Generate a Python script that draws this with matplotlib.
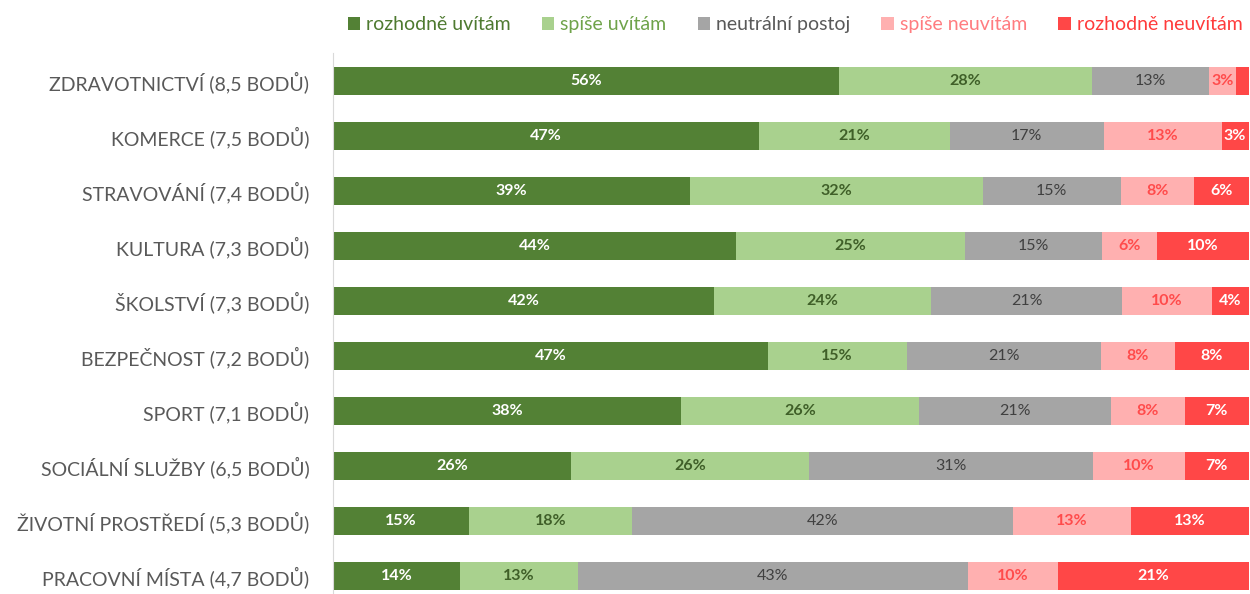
import matplotlib.pyplot as plt

plt.rcParams['font.family'] = ['Lato', 'DejaVu Sans']

categories = ['ZDRAVOTNICTVÍ (8,5 BODŮ)', 'KOMERCE (7,5 BODŮ)', 'STRAVOVÁNÍ (7,4 BODŮ)',
              'KULTURA (7,3 BODŮ)', 'ŠKOLSTVÍ (7,3 BODŮ)', 'BEZPEČNOST (7,2 BODŮ)',
              'SPORT (7,1 BODŮ)', 'SOCIÁLNÍ SLUŽBY (6,5 BODŮ)',
              'ŽIVOTNÍ PROSTŘEDÍ (5,3 BODŮ)', 'PRACOVNÍ MÍSTA (4,7 BODŮ)']

series = ['rozhodně uvítám', 'spíše uvítám', 'neutrální postoj', 'spíše neuvítám', 'rozhodně neuvítám']

rozhodne_uvitam = [56, 47, 39, 44, 42, 47, 38, 26, 15, 14]
spise_uvitam = [28, 21, 32, 25, 24, 15, 26, 26, 18, 13]
neutralni = [13, 17, 15, 15, 21, 21, 21, 31, 42, 43]
spise_neuvitam = [3, 13, 8, 6, 10, 8, 8, 10, 13, 10]
rozhodne_neuvitam = [1.4, 3, 6, 10, 4, 8, 7, 7, 13, 21]

colors = ['#538135', '#A9D18E', '#A5A5A5', '#FFB0B0', '#FF4747']
label_colors = ['white', '#3F5F28', '#404040', '#FF4B4B', 'white']
label_weights = ['bold', 'bold', 'normal', 'bold', 'bold']
legend_colors = ['#4E7A30', '#6FA34A', '#595959', '#FF7C80', '#FF3B3B']

data = [rozhodne_uvitam, spise_uvitam, neutralni, spise_neuvitam, rozhodne_neuvitam]
totals = [sum(col) for col in zip(*data)]

fig = plt.figure(figsize=(12.5, 5.94), dpi=100)
ax = fig.add_axes([0.2664, 0.0, 0.7326, 0.91])

y = list(range(len(categories)))
left = [0.0] * len(categories)
handles = []
for k, vals in enumerate(data):
    share = [v / t * 100 for v, t in zip(vals, totals)]
    bars = ax.barh(y, share, left=left, height=0.51, color=colors[k], label=series[k])
    handles.append(bars)
    for i, (s, v) in enumerate(zip(share, vals)):
        if v >= 2:
            ax.text(left[i] + s / 2, i, f'{round(v)}%', ha='center', va='center',
                    color=label_colors[k], fontsize=11.5, fontweight=label_weights[k])
    left = [l + s for l, s in zip(left, share)]

ax.set_xlim(0, 100)
ax.set_ylim(9.33, -0.5)
ax.set_yticks(y)
ax.set_yticklabels(categories, fontsize=14, color='#595959')
ax.tick_params(axis='y', length=0, pad=17)
ax.set_xticks([])
for s in ['top', 'right', 'bottom']:
    ax.spines[s].set_visible(False)
ax.spines['left'].set_color('#D9D9D9')

leg = fig.legend(handles=handles, loc='center', bbox_to_anchor=(0.636, 0.958), ncol=5,
                 frameon=False, fontsize=14, handlelength=0.65, handleheight=0.65,
                 handletextpad=0.3, columnspacing=1.6, labelcolor=legend_colors)

fig.savefig('out.png', dpi=100)
